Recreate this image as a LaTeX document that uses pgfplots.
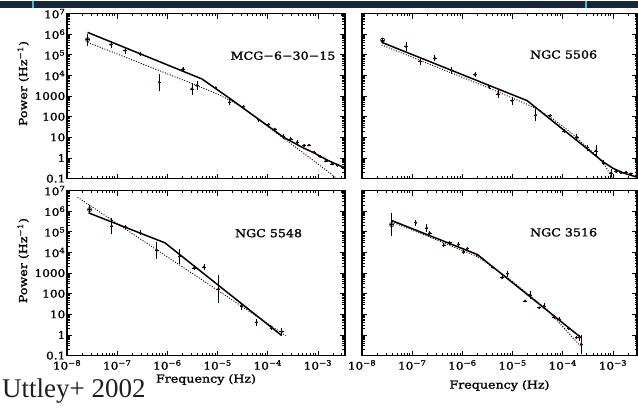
\documentclass[border=0pt]{standalone}
\usepackage{fontspec}
\setmainfont{DejaVu Serif}[FakeStretch=1.15, FakeBold=1.5]
\newfontfamily\slidefont{Liberation Serif}
\usepackage{pgfplots}
\usepackage{pgfplotstable}
\pgfplotsset{compat=1.18}
\definecolor{bandcol}{RGB}{24,38,56}
\definecolor{tealcol}{RGB}{70,190,200}
\definecolor{slidetext}{RGB}{30,30,30}

% minor tick positions (log spacing on log10 axes)
\def\xminors{-7.69897}
\foreach \d in {-8,...,-3}{\foreach \k in {2,...,9}{\pgfmathsetmacro\v{\d+ln(\k)/2.302585}\xdef\xminors{\xminors,\v}}}
\def\yminors{-0.69897}
\foreach \d in {-1,...,6}{\foreach \k in {2,...,9}{\pgfmathsetmacro\v{\d+ln(\k)/2.302585}\xdef\yminors{\yminors,\v}}}

\newcommand\tl[1]{\textnormal{#1}}
\newcommand\tp[1]{\textnormal{10\textsuperscript{#1}}}

% data: log10 frequency, log10 power, error (dex)
\pgfplotstableread[row sep=\\]{
lx ly ey\\
-7.12 5.50 0.15\\ -6.84 5.21 0.18\\ -6.54 5.04 0.10\\ -6.16 3.67 0.42\\
-5.69 4.32 0.08\\ -5.51 3.35 0.30\\ -5.41 3.51 0.20\\ -5.04 3.40 0.06\\
-4.76 2.70 0.15\\ -4.48 2.49 0.08\\ -4.18 1.85 0.10\\ -3.98 1.62 0.06\\
-3.86 1.41 0.06\\ -3.69 1.04 0.10\\ -3.54 0.92 0.12\\ -3.41 0.76 0.10\\
-3.28 0.60 0.06\\ -3.18 0.62 0.05\\ -3.08 0.27 0.06\\ -2.96 0.07 0.05\\
-2.84 -0.15 0.04\\ -2.72 -0.29 0.04\\ -2.61 -0.37 0.04\\ -2.51 -0.45 0.04\\
}\mcgdata
\pgfplotstableread[row sep=\\]{
lx ly\\ -7.59 6.09\\ -5.31 3.83\\ -4.74 2.86\\ -4.28 2.05\\ -3.68 1.00\\ -3.30 0.50\\ -3.08 0.25\\ -2.80 -0.12\\ -2.46 -0.48\\
}\mcgsolid
\pgfplotstableread[row sep=\\]{
lx ly\\ -7.59 5.61\\ -5.50 3.60\\ -5.00 3.10\\ -4.60 2.60\\ -4.20 1.90\\ -3.70 0.98\\ -3.20 0.08\\ -2.80 -0.66\\ -2.58 -1.08\\
}\mcgdot

\pgfplotstableread[row sep=\\]{
lx ly ey\\
-7.12 5.40 0.20\\ -6.84 4.69 0.18\\ -6.55 4.83 0.15\\ -6.21 4.24 0.15\\
-5.75 4.04 0.12\\ -5.46 3.46 0.10\\ -5.29 3.10 0.18\\ -5.01 2.78 0.20\\
-4.54 2.08 0.30\\ -4.25 2.05 0.08\\ -3.97 1.30 0.10\\ -3.72 1.02 0.15\\
-3.51 0.50 0.15\\ -3.34 0.34 0.30\\ -3.19 -0.24 0.12\\ -3.04 -0.73 0.20\\
-2.94 -0.65 0.10\\ -2.84 -0.72 0.08\\ -2.74 -0.69 0.06\\ -2.64 -0.77 0.05\\
-2.54 -0.88 0.05\\
}\ngcAdata
\pgfplotstableread[row sep=\\]{
lx ly\\ -7.61 5.61\\ -4.71 2.78\\ -3.50 0.42\\ -3.20 -0.18\\ -3.00 -0.50\\ -2.80 -0.72\\ -2.51 -0.94\\
}\ngcAsolid
\pgfplotstableread[row sep=\\]{
lx ly\\ -7.61 5.48\\ -5.50 3.42\\ -4.90 2.80\\ -4.71 2.60\\ -4.50 2.36\\ -4.20 1.90\\ -3.90 1.35\\ -3.50 0.50\\ -3.30 0.05\\ -3.15 -0.40\\ -3.00 -1.02\\
}\ngcAdot

\pgfplotstableread[row sep=\\]{
lx ly ey\\
-7.11 5.28 0.40\\ -6.83 5.23 0.10\\ -6.54 4.95 0.12\\ -6.21 4.10 0.40\\
-5.76 3.80 0.35\\ -5.47 3.25 0.12\\ -5.27 3.30 0.15\\ -4.98 2.23 0.68\\
-4.52 1.38 0.18\\ -4.22 0.61 0.18\\ -3.92 0.34 0.08\\ -3.72 0.16 0.18\\
}\ngcBdata
\pgfplotstableread[row sep=\\]{
lx ly\\ -7.57 5.92\\ -6.05 4.47\\ -3.72 -0.03\\
}\ngcBsolid
\pgfplotstableread[row sep=\\]{
lx ly\\ -7.79 6.68\\ -3.64 -0.03\\
}\ngcBdot

\pgfplotstableread[row sep=\\]{
lx ly ey\\
-6.93 5.44 0.15\\ -6.71 5.19 0.20\\ -6.65 4.95 0.10\\ -6.37 4.35 0.10\\
-6.25 4.47 0.10\\ -6.08 4.39 0.10\\ -5.98 4.02 0.10\\ -5.90 4.19 0.08\\
-5.70 3.87 0.06\\ -5.40 3.29 0.06\\ -5.21 2.77 0.08\\ -5.10 2.97 0.15\\
-4.75 1.65 0.06\\ -4.65 1.94 0.20\\ -4.47 1.32 0.06\\ -4.37 1.40 0.15\\
-4.17 0.87 0.10\\ -4.07 0.76 0.10\\ -3.88 0.31 0.06\\ -3.73 -0.13 0.06\\
-3.67 -0.13 0.15\\ -3.63 -0.45 0.45\\
}\ngcCdata
\pgfplotstableread[row sep=\\]{
lx ly\\ -7.41 5.55\\ -5.70 3.90\\ -3.65 -0.10\\
}\ngcCsolid
\pgfplotstableread[row sep=\\]{
lx ly\\ -7.41 5.48\\ -6.50 4.60\\ -5.70 3.80\\ -5.00 2.60\\ -4.30 1.20\\ -3.65 -0.53\\
}\ngcCdot

\tikzset{lab/.style={font=\fontsize{11}{12}\selectfont, anchor=center}}

\pgfplotsset{
  psd/.style={
    scale only axis, height=165pt, ymin=-1, ymax=7, xmin=-8,
    xtick={-8,-7,-6,-5,-4,-3}, ytick={-1,0,1,2,3,4,5,6,7},
    minor xtick/.expanded=\xminors, minor ytick/.expanded=\yminors,
    xticklabels={}, yticklabels={},
    tick align=inside, xtick pos=both, ytick pos=both,
    major tick length=5pt, minor tick length=2.5pt,
    every tick/.style={black, line width=0.8pt},
    axis line style={line width=1.1pt},
    tick label style={font=\fontsize{10.5}{12}\selectfont},
    label style={font=\fontsize{11}{12}\selectfont},
    clip=true,
  },
  leftp/.style={width=278pt, xmax=-2.46,
    yticklabels={\tl{0.1},\tl{1},\tl{10},\tl{100},\tl{1000},\tp{4},\tp{5},\tp{6},\tp{7}},
    yticklabel style={inner xsep=1.5pt},
    ylabel={Power (Hz\textsuperscript{−1})},
    ylabel style={at={(axis description cs:-0.158,0.576)}, anchor=center},
  },
  rightp/.style={width=275pt, xmax=-2.52},
  pts/.style={only marks, mark=*, mark size=1.1pt, black,
    error bars/.cd, y dir=both, y explicit, x dir=both, x fixed=0.035,
    error bar style={line width=0.7pt, black}, error mark=none},
  first/.style={only marks, mark=o, mark size=2pt, black, mark options={line width=0.7pt},
    error bars/.cd, y dir=both, y explicit, x dir=both, x fixed=0.035,
    error bar style={line width=0.7pt, black}, error mark=none},
  solidl/.style={black, line width=1.5pt, no marks},
  dotl/.style={black, line width=0.9pt, no marks, dash pattern=on 1pt off 1.6pt},
}

\begin{document}
\begin{tikzpicture}[x=1pt,y=1pt]
\fill[white] (0,0) rectangle (638,408);
\fill[bandcol] (0,401) rectangle (638,408);
\draw[tealcol, line width=1.2pt] (33,401)--(33,408);
\draw[tealcol, line width=1.2pt] (586,401)--(586,408);
\useasboundingbox (0,0) rectangle (638,408);

% top left: MCG-6-30-15
\begin{axis}[psd, leftp, at={(67pt,230pt)}, anchor=south west]
\addplot+[first] coordinates {(-7.59,5.74) +- (0,0.29)};
\addplot+[pts] table[x=lx, y=ly, y error=ey] {\mcgdata};
\addplot[solidl] table[x=lx, y=ly] {\mcgsolid};
\addplot[dotl] table[x=lx, y=ly] {\mcgdot};
\node[lab] at (rel axis cs:0.777,0.745) {MCG−6−30−15};
\end{axis}

% top right: NGC 5506
\begin{axis}[psd, rightp, at={(362pt,230pt)}, anchor=south west]
\addplot+[first] coordinates {(-7.59,5.72) +- (0,0.12)};
\addplot+[pts] table[x=lx, y=ly, y error=ey] {\ngcAdata};
\addplot[solidl] table[x=lx, y=ly] {\ngcAsolid};
\addplot[dotl] table[x=lx, y=ly] {\ngcAdot};
\node[lab] at (rel axis cs:0.733,0.752) {NGC 5506};
\end{axis}

% bottom left: NGC 5548
\begin{axis}[psd, leftp, at={(67pt,53pt)}, anchor=south west,
  xticklabels={\tp{−8},\tp{−7},\tp{−6},\tp{−5},\tp{−4},\tp{−3}},
  xticklabel style={anchor=base, yshift=-14pt},
  xlabel={Frequency (Hz)},
  xlabel style={at={(axis description cs:0.5,0)}, anchor=base, yshift=-27pt}]
\addplot+[first] coordinates {(-7.55,6.08) +- (0,0.2)};
\addplot+[pts] table[x=lx, y=ly, y error=ey] {\ngcBdata};
\addplot[solidl] table[x=lx, y=ly] {\ngcBsolid};
\addplot[dotl] table[x=lx, y=ly] {\ngcBdot};
\node[lab] at (rel axis cs:0.725,0.742) {NGC 5548};
\end{axis}

% bottom right: NGC 3516
\begin{axis}[psd, rightp, at={(362pt,53pt)}, anchor=south west,
  xticklabels={\tp{−8},\tp{−7},\tp{−6},\tp{−5},\tp{−4},\tp{−3}},
  xticklabel style={anchor=base, yshift=-14pt},
  xlabel={Frequency (Hz)},
  xlabel style={at={(axis description cs:0.5,0)}, anchor=base, yshift=-33pt}]
\addplot+[first] coordinates {(-7.41,5.35) +- (0,0.57)};
\addplot+[pts] table[x=lx, y=ly, y error=ey] {\ngcCdata};
\addplot[solidl] table[x=lx, y=ly] {\ngcCsolid};
\addplot[dotl] table[x=lx, y=ly] {\ngcCdot};
\node[lab] at (rel axis cs:0.733,0.747) {NGC 3516};
\end{axis}

\node[anchor=base west, font=\slidefont\fontsize{27}{30}\selectfont, text=slidetext, inner sep=0pt] at (2,11) {Uttley+ 2002};
\end{tikzpicture}
\end{document}
